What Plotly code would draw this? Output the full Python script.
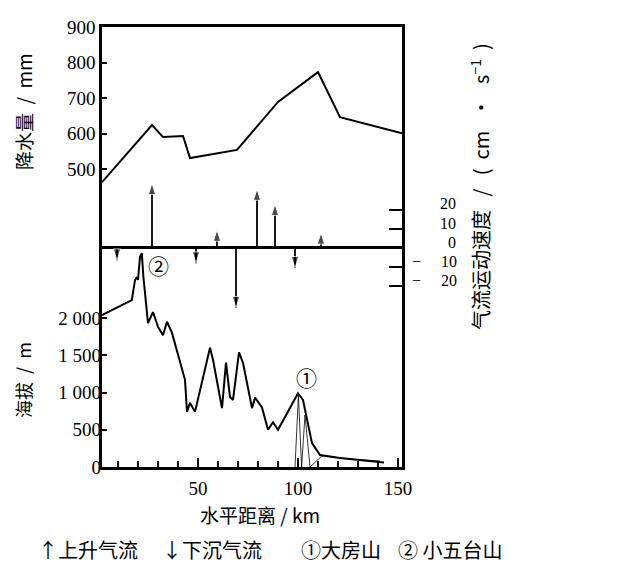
import plotly.graph_objects as go

# ---- data ----
distance_precip = [2, 27, 32.5, 42.5, 46, 69.5, 90, 110, 121, 152]
precipitation = [463, 624, 590, 593, 531, 554, 689, 773, 646, 601]

distance_elev = [2, 16.9, 18.5, 19.5, 20, 21, 21.9, 22.7, 25, 27.5, 30, 32.5, 34.5, 37,
                 43.5, 44.5, 46, 48.5, 56, 57.5, 62, 64, 66, 67.5, 70.5, 72.5, 77, 78.5,
                 82, 85, 87.5, 90, 100, 102.5, 107, 111, 121, 141, 143]
elevation = [2040, 2240, 2510, 2550, 2510, 2820, 2870, 2550, 1930, 2080, 1880, 1770, 1950, 1800,
             1170, 740, 860, 740, 1600, 1440, 790, 1400, 940, 900, 1540, 1400, 790, 930,
             800, 500, 600, 500, 990, 900, 320, 160, 120, 70, 60]

# thin secondary profile lines under peak 1
distance_alt = [98.5, 100.2, 101.8, 103.5, 106, 112, 125, 141]
elevation_alt = [0, 960, 0, 700, 0, 150, 110, 80]

up_x = [27, 59.5, 79.5, 88.5, 111.5]
up_v = [34, 9.5, 31, 23, 8]
down_x = [9.5, 49, 69, 98.5]
down_v = [-6.5, -8, -31.5, -10.5]

NB = "\u00a0"
FS = "\u2007"
precip_ticks = [500, 600, 700, 800, 900]
elev_ticks = [0, 500, 1000, 1500, 2000]
elev_ticktext = ["0", "500", "1" + NB + "000", "1" + NB + "500", "2" + NB + "000"]
vel_ticks = [20, 10, 0, -10, -20]
vel_ticktext = [FS + NB * 5 + "20", FS + NB * 5 + "10", FS + NB * 5 + FS + "0",
                "\u2212" + NB * 5 + "10", "\u2212" + NB * 5 + "20"]
x_ticks = [50, 100, 150]

peak_labels = ["\u2460", "\u2461"]
peak_x = [104, 30]
peak_elev = [1210, 2710]

SERIF = "Liberation Serif, Times New Roman, serif"
CJK = "Noto Sans CJK SC, sans-serif"


def segs(xs, vs):
    X, Y, S = [], [], []
    for x, v in zip(xs, vs):
        X += [x, x, None]
        Y += [0, v, None]
        S += [0, 12, 0]
    return X, Y, S


fig = go.Figure()

fig.add_trace(go.Scatter(x=distance_precip, y=precipitation, mode="lines", yaxis="y",
                         line=dict(color="black", width=2), name="降水量", showlegend=False))
fig.add_trace(go.Scatter(x=distance_elev, y=elevation, mode="lines", yaxis="y2",
                         line=dict(color="black", width=2), name="海拔", showlegend=False))
fig.add_trace(go.Scatter(x=distance_alt, y=elevation_alt, mode="lines", yaxis="y2",
                         line=dict(color="black", width=0.8), name="海拔(其他剖面)", showlegend=False))

ux, uy, us = segs(up_x, up_v)
fig.add_trace(go.Scatter(x=ux, y=uy, mode="lines+markers", yaxis="y3",
                         line=dict(color="black", width=1.8),
                         marker=dict(symbol="arrow", size=us, angle=0, color="black"),
                         name="上升气流", showlegend=False))
dx, dy, ds = segs(down_x, down_v)
fig.add_trace(go.Scatter(x=dx, y=dy, mode="lines+markers", yaxis="y3",
                         line=dict(color="black", width=1.8),
                         marker=dict(symbol="arrow", size=ds, angle=180, color="black"),
                         name="下沉气流", showlegend=False))

for lab, px, pe in zip(peak_labels, peak_x, peak_elev):
    fig.add_annotation(text=lab, x=px, y=pe, xref="x", yref="y2", showarrow=False,
                       xanchor="center", yanchor="middle",
                       font=dict(family=CJK, size=21, color="black"))

axis_font = dict(family=SERIF, size=19, color="black")

fig.update_layout(
    width=638, height=568,
    margin=dict(l=102, r=236, t=27, b=101),
    paper_bgcolor="white", plot_bgcolor="white",
    showlegend=False,
    xaxis=dict(range=[2, 152], showline=True, linewidth=2.5, linecolor="black", mirror=True,
               tickvals=x_ticks, ticks="inside", ticklen=9, tickwidth=1.5, tickcolor="black",
               minor=dict(dtick=10, tick0=0, ticks="inside", ticklen=6, tickwidth=1.5, tickcolor="black"),
               showgrid=False, zeroline=False, tickfont=axis_font, anchor="y", ticklabelstandoff=2),
    yaxis=dict(range=[-339, 900], tickvals=precip_ticks, ticks="inside", ticklen=5, tickwidth=1.5,
               tickcolor="black", showline=True, linewidth=2.5, linecolor="black",
               showgrid=False, zeroline=False, tickfont=axis_font),
    yaxis2=dict(range=[0, 5906], overlaying="y", side="left", anchor="x", tickvals=elev_ticks,
                ticktext=elev_ticktext, ticks="inside", ticklen=5, tickwidth=1.5, tickcolor="black",
                showline=False, showgrid=False, zeroline=False, tickfont=axis_font),
    yaxis3=dict(range=[-115, 116], overlaying="y", side="right", anchor="x", tickvals=vel_ticks,
                ticktext=vel_ticktext, ticks="inside", ticklen=13, tickwidth=2, tickcolor="black",
                showline=True, linewidth=2.5, linecolor="black", showgrid=False,
                zeroline=True, zerolinecolor="black", zerolinewidth=2.5,
                tickfont=dict(family=SERIF, size=16, color="black"),
                ticklabelstandoff=4, ticklabelshift=-6),
)

# annotations positioned in page pixels, converted to paper coordinates below
vel_title = ("气流运动速度" + NB * 3 + "/" + NB * 3 + "(" + NB * 2 + "cm" + NB * 3 + "·" + NB * 3
             + "s<sup>−1</sup>" + NB * 2 + ")")
texts = [
    ("降水量" + NB * 2 + "/" + NB * 2 + "mm", 23, 112, -90, 19),
    ("海拔" + NB * 2 + "/" + NB * 2 + "m", 23, 380, -90, 18),
    (vel_title, 480, 187, -90, 20),
    ("水平距离" + NB + "/" + NB + "km", 260, 514, 0, 19),
    ("\u2191上升气流", 88, 549, 0, 20),
    ("\u2193下沉气流", 212, 549, 0, 20),
    ("\u2460大房山", 341, 549, 0, 20),
    ("\u2461" + NB + "小五台山", 450, 549, 0, 20),
]

W, H = 638, 568
L, R, T, B = 102, 236, 27, 101
pw, ph = W - L - R, H - T - B
for t, px, py, ang, fs in texts:
    fig.add_annotation(text=t, x=(px - L) / pw, y=(H - B - py) / ph, xref="paper", yref="paper",
                       xanchor="center", yanchor="middle", showarrow=False, textangle=ang,
                       font=dict(family=CJK, size=fs, color="black"))

fig.write_html("out.html", config={"displayModeBar": False},
               post_script="document.body.style.margin='0px';")
